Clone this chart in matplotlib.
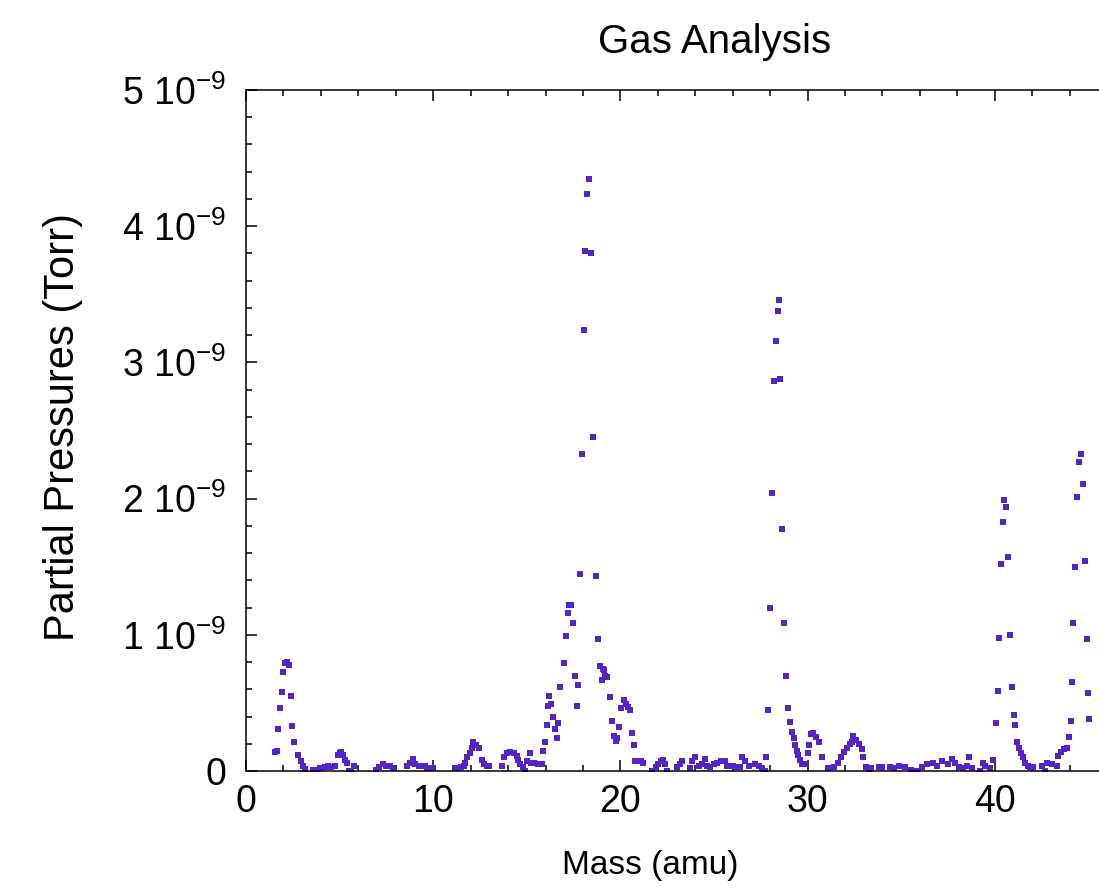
import matplotlib
matplotlib.use('Agg')
import matplotlib.pyplot as plt
from matplotlib.ticker import MultipleLocator, FuncFormatter
import numpy as np

plt.rcParams['font.family'] = ['Liberation Sans', 'DejaVu Sans']
plt.rcParams['mathtext.fontset'] = 'custom'
plt.rcParams['mathtext.rm'] = 'Liberation Sans'
plt.rcParams['mathtext.it'] = 'Liberation Sans'

# Mass (amu) and partial pressure (units of 1e-9 Torr)
mass = [1.55, 1.65, 1.72, 1.82, 1.92, 1.98, 2.08, 2.20, 2.30, 2.40, 2.46, 2.56, 2.78, 2.94, 3.05, 3.15,
        3.60, 3.75, 3.95, 4.20, 4.40, 4.55, 4.75, 4.90, 5.00, 5.10, 5.20, 5.30, 5.40, 5.50, 5.60, 5.75,
        6.95, 7.10, 7.30, 7.50, 7.70, 7.85, 8.58, 8.76, 8.90, 9.05, 9.25, 9.40, 9.55, 9.68, 9.80, 10.0,
        11.16, 11.30, 11.50, 11.62, 11.72, 11.82, 11.96, 12.05, 12.15, 12.30, 12.45, 12.60, 12.70, 12.85, 13.0,
        13.70, 13.80, 13.93, 14.10, 14.30, 14.45, 14.55, 14.65, 14.80, 14.90, 15.00, 15.15, 15.25, 15.40,
        15.60, 15.80, 15.86, 15.96, 16.07, 16.12, 16.20, 16.30, 16.40, 16.50, 16.60, 16.65, 16.80, 17.00,
        17.10, 17.20, 17.28, 17.38, 17.45, 17.55, 17.67, 17.75, 17.85, 17.95, 18.05, 18.10, 18.20, 18.30,
        18.42, 18.53, 18.70, 18.80, 18.90, 19.00, 19.05, 19.12, 19.20, 19.30, 19.43, 19.55, 19.65, 19.75,
        19.80, 19.90, 20.05, 20.20, 20.30, 20.40, 20.50, 20.60, 20.70, 20.80, 20.95, 21.10, 21.20, 21.70,
        21.90, 22.00, 22.15, 22.30, 22.40, 22.50, 23.00, 23.20, 23.30, 23.70, 23.80, 24.00, 24.20, 24.35,
        24.50, 24.60, 24.80, 25.00, 25.15, 25.35, 25.60, 25.70, 26.00, 26.20, 26.40, 26.50, 26.65, 26.85,
        27.20, 27.40, 27.55, 27.70, 27.80, 27.90, 27.97, 28.08, 28.20, 28.30, 28.40, 28.45, 28.55, 28.65,
        28.75, 28.85, 28.95, 29.05, 29.15, 29.25, 29.35, 29.45, 29.50, 29.60, 29.70, 29.85, 30.00, 30.07,
        30.20, 30.30, 30.45, 30.60, 30.75, 31.07, 31.40, 31.60, 31.80, 31.95, 32.10, 32.25, 32.35, 32.45,
        32.60, 32.75, 32.90, 32.95, 33.10, 33.30, 33.40, 33.80, 34.00, 34.40, 34.60, 34.90, 35.20, 35.50,
        35.80, 36.10, 36.40, 36.70, 36.90, 37.20, 37.50, 37.70, 37.90, 38.10, 38.30, 38.50, 38.60, 38.80,
        39.20, 39.35, 39.50, 39.75, 39.90, 40.05, 40.15, 40.20, 40.35, 40.42, 40.50, 40.60, 40.70, 40.80,
        40.90, 41.00, 41.10, 41.20, 41.30, 41.40, 41.50, 41.60, 41.75, 41.90, 42.05, 42.50, 42.70, 42.80,
        43.05, 43.30, 43.40, 43.55, 43.70, 43.85, 43.95, 44.05, 44.15, 44.20, 44.30, 44.40, 44.50, 44.60,
        44.70, 44.80, 44.90, 45.00, 45.05]

pressure = [0.14, 0.15, 0.31, 0.46, 0.58, 0.73, 0.79, 0.80, 0.78, 0.55, 0.33, 0.21, 0.12, 0.07, 0.04, 0.015,
            0.01, 0.01, 0.02, 0.03, 0.04, 0.03, 0.04, 0.12, 0.13, 0.14, 0.12, 0.08, 0.06, 0.0, 0.0, 0.04,
            0.01, 0.03, 0.05, 0.04, 0.04, 0.02, 0.04, 0.06, 0.09, 0.05, 0.04, 0.04, 0.04, 0.02, 0.02, 0.02,
            0.02, 0.02, 0.03, 0.04, 0.06, 0.10, 0.13, 0.17, 0.21, 0.19, 0.17, 0.08, 0.05, 0.04, 0.04,
            0.04, 0.10, 0.13, 0.14, 0.13, 0.11, 0.08, 0.05, 0.03, 0.0, 0.07, 0.13, 0.06, 0.06,
            0.05, 0.05, 0.15, 0.21, 0.34, 0.48, 0.55, 0.49, 0.40, 0.31, 0.24, 0.35, 0.62, 0.79,
            0.99, 1.16, 1.22, 1.22, 1.09, 0.70, 0.48, 0.63, 1.45, 2.33, 3.24, 3.82, 4.24, 4.35,
            3.80, 2.45, 1.43, 0.97, 0.77, 0.67, 0.75, 0.74, 0.70, 0.69, 0.54, 0.37, 0.26, 0.22,
            0.24, 0.32, 0.46, 0.52, 0.49, 0.47, 0.45, 0.28, 0.19, 0.07, 0.07, 0.07, 0.06, 0.0,
            0.03, 0.05, 0.07, 0.08, 0.05, 0.0, 0.03, 0.05, 0.07, 0.02, 0.07, 0.10, 0.04, 0.05,
            0.09, 0.04, 0.03, 0.05, 0.06, 0.07, 0.07, 0.04, 0.04, 0.03, 0.03, 0.10, 0.07, 0.04,
            0.05, 0.04, 0.02, 0.0, 0.10, 0.45, 1.20, 2.04, 2.86, 3.16, 3.38, 3.46, 2.88, 1.78,
            1.09, 0.70, 0.46, 0.36, 0.29, 0.24, 0.19, 0.15, 0.12, 0.08, 0.05, 0.05, 0.13, 0.19,
            0.27, 0.28, 0.25, 0.21, 0.10, 0.02, 0.03, 0.06, 0.10, 0.14, 0.17, 0.20, 0.21, 0.26,
            0.23, 0.20, 0.16, 0.10, 0.03, 0.01, 0.02, 0.03, 0.03, 0.03, 0.02, 0.04, 0.03, 0.01,
            0.0, 0.03, 0.05, 0.06, 0.04, 0.07, 0.05, 0.09, 0.06, 0.03, 0.02, 0.04, 0.10, 0.02,
            0.0, 0.06, 0.04, 0.02, 0.08, 0.35, 0.59, 0.98, 1.52, 1.83, 1.99, 1.94, 1.57, 1.00,
            0.62, 0.41, 0.34, 0.21, 0.17, 0.13, 0.10, 0.06, 0.04, 0.03, 0.03, 0.04, 0.0, 0.06,
            0.05, 0.04, 0.11, 0.14, 0.16, 0.17, 0.25, 0.37, 0.65, 1.09, 1.50, 2.01, 2.27, 2.33,
            2.11, 1.54, 0.97, 0.57, 0.38]

pressure_torr = np.array(pressure) * 1e-9

fig = plt.figure(figsize=(10.99, 8.96), dpi=100)
# right edge of the axes runs past the figure, as in the original crop
ax = fig.add_axes([246 / 1099, 125 / 896, 936 / 1099, 681 / 896])

ax.plot(mass, pressure_torr, linestyle='none', marker='s', markersize=4.8,
        markeredgewidth=0, color='#5424c8')

ax.set_xlim(0, 50)
ax.set_ylim(0, 5e-9)
ax.xaxis.set_major_locator(MultipleLocator(10))
ax.xaxis.set_minor_locator(MultipleLocator(2))
ax.yaxis.set_major_locator(MultipleLocator(1e-9))
ax.yaxis.set_minor_locator(MultipleLocator(0.2e-9))


def fmt_y(v, pos):
    n = int(round(v * 1e9))
    if n == 0:
        return '0'
    return f'{n} 10$^{{-9}}$'


def fmt_x(v, pos):
    # the 50 label would sit outside the picture
    return '' if v > 45 else f'{v:.0f}'


ax.yaxis.set_major_formatter(FuncFormatter(fmt_y))
ax.xaxis.set_major_formatter(FuncFormatter(fmt_x))

for s in ax.spines.values():
    s.set_linewidth(1.1)
ax.tick_params(which='both', direction='in', top=True, right=True, width=1.1)
ax.tick_params(which='major', length=8)
ax.tick_params(which='minor', length=4)
ax.tick_params(axis='x', labelsize=27, pad=9)
ax.tick_params(axis='y', labelsize=27, pad=14)

fig.text(715 / 1099, 1 - 42 / 896, 'Gas Analysis', fontsize=29, ha='center', va='center')
fig.text(650 / 1099, 1 - 865 / 896, 'Mass (amu)', fontsize=24, ha='center', va='center')
fig.text(63 / 1099, 1 - 427 / 896, 'Partial Pressures (Torr)', fontsize=30,
         ha='center', va='center', rotation=90)

fig.savefig('out.png', dpi=100)
